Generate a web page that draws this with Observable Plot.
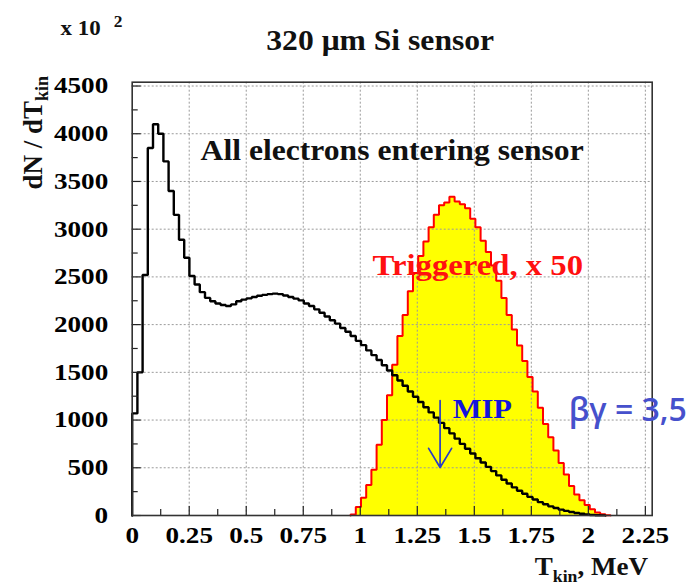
<!DOCTYPE html>
<html>
<head>
<meta charset="utf-8">
<script src="https://cdn.jsdelivr.net/npm/d3@7"></script>
<script src="https://cdn.jsdelivr.net/npm/@observablehq/plot@0.6"></script>
<style>
  body { margin: 0; background: #fff; }
</style>
</head>
<body>
<div id="chart"></div>
<script>
// Kinetic-energy spectrum of electrons in a 320 µm Si sensor, 100 bins over 0–2.28 MeV.
const binWidth = 0.0228; // MeV

// dN/dT_kin (units of 10^2) for all electrons entering the sensor, from bin 0.
const allElectrons = [
  1070, 1500, 2520, 3850, 4100, 4000, 3710, 3400, 3150, 2890,
  2700, 2510, 2420, 2340, 2280, 2245, 2222, 2205, 2195, 2212,
  2245, 2262, 2275, 2290, 2302, 2312, 2320, 2325, 2320, 2305,
  2290, 2272, 2254, 2222, 2195, 2160, 2125, 2085, 2045, 2010,
  1965, 1925, 1880, 1830, 1785, 1730, 1680, 1630, 1575, 1520,
  1470, 1415, 1360, 1300, 1245, 1190, 1135, 1080, 1025, 970,
  915, 860, 805, 750, 700, 650, 600, 555, 510, 465,
  420, 375, 335, 295, 260, 228, 195, 168, 140, 118,
  96, 78, 62, 48, 36, 26, 18, 11, 6, 3,
  1
];

// Triggered electrons, scaled by 50; the first non-empty bin is triggeredFirstBin.
const triggeredFirstBin = 42;
const triggeredX50 = [
  10, 90, 185, 320, 480, 740, 1000, 1260, 1580, 1880,
  2100, 2350, 2540, 2720, 2870, 3020, 3150, 3250, 3280, 3340,
  3290, 3260, 3220, 3110, 3020, 2880, 2760, 2620, 2460, 2280,
  2100, 1950, 1780, 1620, 1450, 1300, 1130, 960, 820, 680,
  550, 430, 310, 220, 160, 110, 65, 32, 12, 3
];

// Energy of a minimum-ionising particle (βγ = 3.5), MeV.
const mipEnergy = 1.35;

const xTicks = [0, 0.25, 0.5, 0.75, 1, 1.25, 1.5, 1.75, 2, 2.25];
const xTickLabels = ["0", "0.25", "0.5", "0.75", "1", "1.25", "1.5", "1.75", "2", "2.25"];
const xMinorTicks = [0.125, 0.375, 0.625, 0.875, 1.125, 1.375, 1.625, 1.875, 2.125];
const yTicks = [0, 500, 1000, 1500, 2000, 2500, 3000, 3500, 4000, 4500];
const yTickLabels = ["0", "500", "1000", "1500", "2000", "2500", "3000", "3500", "4000", "4500"];
const yMinorTicks = [250, 750, 1250, 1750, 2250, 2750, 3250, 3750, 4250];

// Histogram outline as a staircase through the bin edges.
function staircase(values, firstBin) {
  const pts = [{x: firstBin * binWidth, y: 0}];
  values.forEach((v, i) => {
    const x0 = (firstBin + i) * binWidth;
    pts.push({x: x0, y: v}, {x: x0 + binWidth, y: v});
  });
  pts.push({x: (firstBin + values.length) * binWidth, y: 0});
  return pts;
}
const allPts = staircase(allElectrons, 0);
const trigPts = staircase(triggeredX50, triggeredFirstBin);

const W = 691, H = 585;
const mL = 131.7, mR = 39.3, mT = 81.7, mB = 70;
const innerW = W - mL - mR, innerH = H - mT - mB;
const serif = "Liberation Serif, Times New Roman, serif";

const chart = Plot.plot({
  width: W,
  height: H,
  marginLeft: mL,
  marginRight: mR,
  marginTop: mT,
  marginBottom: mB,
  style: {fontFamily: serif, fontWeight: "bold", background: "#fff", color: "#000"},
  x: {domain: [0, 2.28]},
  y: {domain: [0, 4540]},
  marks: [
    Plot.area(trigPts, {x1: "x", y1: 0, y2: "y", fill: "#ffff00"}),
    Plot.gridX(xTicks.slice(1), {stroke: "#9a9a9a", strokeOpacity: 1, strokeDasharray: "2,2"}),
    Plot.gridY(yTicks.slice(1), {stroke: "#9a9a9a", strokeOpacity: 1, strokeDasharray: "2,2"}),
    Plot.line(trigPts, {x: "x", y: "y", stroke: "#ff0000", strokeWidth: 2, strokeLinejoin: "miter"}),
    Plot.line(allPts, {x: "x", y: "y", stroke: "#000", strokeWidth: 2.4, strokeLinejoin: "miter"}),
    // inward ticks
    Plot.tickX(xTicks, {x: d => d, stroke: "#222", strokeWidth: 1.2, insetTop: innerH - 9}),
    Plot.tickX(xMinorTicks, {x: d => d, stroke: "#222", strokeWidth: 1.2, insetTop: innerH - 6}),
    Plot.tickY(yTicks, {y: d => d, stroke: "#222", strokeWidth: 1.2, insetRight: innerW - 9}),
    Plot.tickY(yMinorTicks, {y: d => d, stroke: "#222", strokeWidth: 1.2, insetRight: innerW - 6}),
    Plot.frame({stroke: "#333", strokeWidth: 1.6}),
    Plot.axisX(xTicks, {tickSize: 0, tickPadding: 11, fontSize: 23, label: null,
      tickFormat: d => xTickLabels[xTicks.indexOf(d)]}),
    Plot.axisY(yTicks, {tickSize: 0, tickPadding: 24, fontSize: 23, label: null,
      tickFormat: d => yTickLabels[yTicks.indexOf(d)]}),
    // annotations
    Plot.text(["All electrons entering sensor"], {text: d => d, x: 0.3, y: 3822, textAnchor: "start", fontSize: 29, fill: "#111"}),
    Plot.text(["Triggered, x 50"], {text: d => d, x: 1.054, y: 2616, textAnchor: "start", fontSize: 30, fill: "#ff1010"}),
    Plot.text(["MIP"], {text: d => d, x: 1.405, y: 1111, textAnchor: "start", fontSize: 28, fill: "#1414dc"}),
    Plot.text(["βγ = 3,5"], {text: d => d, x: 1.914, y: 1102, textAnchor: "start", fontSize: 32,
      fontFamily: "Open Sans, Lato, sans-serif", fontWeight: "600", fill: "#4650cc"}),
    Plot.arrow([mipEnergy], {x1: d => d, x2: d => d, y1: 1205, y2: 503, stroke: "#2a3cc4",
      strokeWidth: 1.7, headLength: 40, headAngle: 62}),
    // title and axis multiplier
    Plot.text(["320 μm Si sensor"], {text: d => d, frameAnchor: "top", lineAnchor: "middle", dx: -12, dy: -41.3, fontSize: 29, fill: "#111"}),
    Plot.text(["x 10"], {text: d => d, frameAnchor: "top-left", lineAnchor: "middle", textAnchor: "start", dx: -71.7, dy: -53.5, fontSize: 21, fill: "#111"}),
    Plot.text(["2"], {text: d => d, frameAnchor: "top-left", lineAnchor: "middle", textAnchor: "start", dx: -18.5, dy: -60.5, fontSize: 16, fill: "#111"})
  ]
});

document.getElementById("chart").append(chart);

const svg = d3.select(chart.tagName.toLowerCase() === "svg" ? chart : chart.querySelector("svg"));

// Axis titles with subscripts
const yTitle = svg.append("text")
  .attr("transform", `translate(42,76) rotate(-90)`)
  .attr("text-anchor", "end")
  .attr("font-family", serif).attr("font-weight", "bold").attr("font-size", 27).attr("fill", "#111");
yTitle.append("tspan").text("dN / dT");
yTitle.append("tspan").attr("font-size", 18).attr("dy", 6).text("kin");

const xTitle = svg.append("text")
  .attr("x", 648).attr("y", 575)
  .attr("text-anchor", "end")
  .attr("font-family", serif).attr("font-weight", "bold").attr("font-size", 26).attr("fill", "#111");
xTitle.append("tspan").text("T");
xTitle.append("tspan").attr("font-size", 17).attr("dy", 6.5).text("kin");
xTitle.append("tspan").attr("dy", -6.5).text(", MeV");

// Slightly wide serif lettering, as in the original figure
function widen(sel, factor) {
  sel.each(function () {
    const len = this.getComputedTextLength();
    if (len > 0) {
      this.setAttribute("textLength", (len * factor).toFixed(1));
      this.setAttribute("lengthAdjust", "spacingAndGlyphs");
    }
  });
}
widen(svg.selectAll('g[aria-label="x-axis tick label"] text, g[aria-label="y-axis tick label"] text'), 1.18);
widen(svg.selectAll('g[aria-label="text"] text').filter(function () {
  return !this.closest("g").hasAttribute("font-family");
}), 1.09);
widen(xTitle, 1.04);
</script>
</body>
</html>
